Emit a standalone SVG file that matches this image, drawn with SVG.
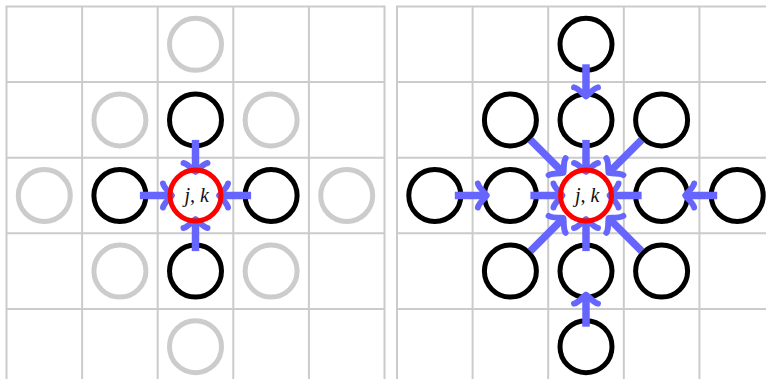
<svg xmlns="http://www.w3.org/2000/svg" width="766" height="379" viewBox="0 0 766 379">
<style>
.grid line{stroke:#cbcbcb;stroke-width:2}
.bg{fill:#ffffff}
circle{fill:none;stroke-width:5}
.k{stroke:#000000}
.g{stroke:#cccccc}
.r{stroke:#ff0000}
.arr line{stroke:#6666ff;stroke-width:7.5;stroke-linecap:butt}
.head{fill:none;stroke:#6666ff;stroke-width:6;stroke-linecap:round;stroke-linejoin:round}
.lbl{font-family:"Liberation Serif","DejaVu Serif",serif;font-style:italic;font-size:20px;fill:#111111;text-anchor:middle}
</style>
<defs>
<path id="head" class="head" d="M-9,12 C-8.25,7.5 0,0.75 0,0 C0,-0.75 -8.25,-7.5 -9,-12"/>
</defs>
<rect class="bg" x="0" y="0" width="766" height="379"/>
<g id="grid-left" class="grid">
<line x1="6.5" y1="6.5" x2="6.5" y2="380"/>
<line x1="82.1" y1="6.5" x2="82.1" y2="380"/>
<line x1="157.7" y1="6.5" x2="157.7" y2="380"/>
<line x1="233.3" y1="6.5" x2="233.3" y2="380"/>
<line x1="308.9" y1="6.5" x2="308.9" y2="380"/>
<line x1="384.5" y1="6.5" x2="384.5" y2="380"/>
<line x1="5.5" y1="6.5" x2="385.5" y2="6.5"/>
<line x1="6.5" y1="82.1" x2="384.5" y2="82.1"/>
<line x1="6.5" y1="157.7" x2="384.5" y2="157.7"/>
<line x1="6.5" y1="233.3" x2="384.5" y2="233.3"/>
<line x1="6.5" y1="308.9" x2="384.5" y2="308.9"/>
</g>
<g id="grid-right" class="grid">
<line x1="397" y1="6.5" x2="397" y2="380"/>
<line x1="472.6" y1="6.5" x2="472.6" y2="380"/>
<line x1="548.2" y1="6.5" x2="548.2" y2="380"/>
<line x1="623.8" y1="6.5" x2="623.8" y2="380"/>
<line x1="699.4" y1="6.5" x2="699.4" y2="380"/>
<line x1="396" y1="6.5" x2="770" y2="6.5"/>
<line x1="397" y1="82.1" x2="770" y2="82.1"/>
<line x1="397" y1="157.7" x2="770" y2="157.7"/>
<line x1="397" y1="233.3" x2="770" y2="233.3"/>
<line x1="397" y1="308.9" x2="770" y2="308.9"/>
</g>
<g id="left-n-0-2"><circle class="g" cx="195.5" cy="44.3" r="26"/></g>
<g id="left-n-1-1"><circle class="g" cx="119.9" cy="119.9" r="26"/></g>
<g id="left-n-1-2"><circle class="k" cx="195.5" cy="119.9" r="26"/></g>
<g id="left-n-1-3"><circle class="g" cx="271.1" cy="119.9" r="26"/></g>
<g id="left-n-2-0"><circle class="g" cx="44.3" cy="195.5" r="26"/></g>
<g id="left-n-2-1"><circle class="k" cx="119.9" cy="195.5" r="26"/></g>
<g id="left-n-2-3"><circle class="k" cx="271.1" cy="195.5" r="26"/></g>
<g id="left-n-2-4"><circle class="g" cx="346.7" cy="195.5" r="26"/></g>
<g id="left-n-3-1"><circle class="g" cx="119.9" cy="271.1" r="26"/></g>
<g id="left-n-3-2"><circle class="k" cx="195.5" cy="271.1" r="26"/></g>
<g id="left-n-3-3"><circle class="g" cx="271.1" cy="271.1" r="26"/></g>
<g id="left-n-4-2"><circle class="g" cx="195.5" cy="346.7" r="26"/></g>
<g id="right-n-0-2"><circle class="k" cx="586" cy="44.3" r="26"/></g>
<g id="right-n-1-1"><circle class="k" cx="510.4" cy="119.9" r="26"/></g>
<g id="right-n-1-2"><circle class="k" cx="586" cy="119.9" r="26"/></g>
<g id="right-n-1-3"><circle class="k" cx="661.6" cy="119.9" r="26"/></g>
<g id="right-n-2-0"><circle class="k" cx="434.8" cy="195.5" r="26"/></g>
<g id="right-n-2-1"><circle class="k" cx="510.4" cy="195.5" r="26"/></g>
<g id="right-n-2-3"><circle class="k" cx="661.6" cy="195.5" r="26"/></g>
<g id="right-n-2-4"><circle class="k" cx="737.2" cy="195.5" r="26"/></g>
<g id="right-n-3-1"><circle class="k" cx="510.4" cy="271.1" r="26"/></g>
<g id="right-n-3-2"><circle class="k" cx="586" cy="271.1" r="26"/></g>
<g id="right-n-3-3"><circle class="k" cx="661.6" cy="271.1" r="26"/></g>
<g id="right-n-4-2"><circle class="k" cx="586" cy="346.7" r="26"/></g>
<g id="connectors" class="arr">
<g transform="translate(195.5,139.9) rotate(90)"><line x1="0" y1="0" x2="31.6" y2="0"/><use href="#head" x="32.1"/></g>
<g transform="translate(139.9,195.5) rotate(0)"><line x1="0" y1="0" x2="31.6" y2="0"/><use href="#head" x="32.1"/></g>
<g transform="translate(251.1,195.5) rotate(180)"><line x1="0" y1="0" x2="31.6" y2="0"/><use href="#head" x="32.1"/></g>
<g transform="translate(195.5,251.1) rotate(-90)"><line x1="0" y1="0" x2="31.6" y2="0"/><use href="#head" x="32.1"/></g>
<g transform="translate(586,139.9) rotate(90)"><line x1="0" y1="0" x2="31.6" y2="0"/><use href="#head" x="32.1"/></g>
<g transform="translate(530.4,195.5) rotate(0)"><line x1="0" y1="0" x2="31.6" y2="0"/><use href="#head" x="32.1"/></g>
<g transform="translate(641.6,195.5) rotate(180)"><line x1="0" y1="0" x2="31.6" y2="0"/><use href="#head" x="32.1"/></g>
<g transform="translate(586,251.1) rotate(-90)"><line x1="0" y1="0" x2="31.6" y2="0"/><use href="#head" x="32.1"/></g>
<g transform="translate(586,64.3) rotate(90)"><line x1="0" y1="0" x2="31.6" y2="0"/><use href="#head" x="32.1"/></g>
<g transform="translate(454.8,195.5) rotate(0)"><line x1="0" y1="0" x2="31.6" y2="0"/><use href="#head" x="32.1"/></g>
<g transform="translate(717.2,195.5) rotate(180)"><line x1="0" y1="0" x2="31.6" y2="0"/><use href="#head" x="32.1"/></g>
<g transform="translate(586,326.7) rotate(-90)"><line x1="0" y1="0" x2="31.6" y2="0"/><use href="#head" x="32.1"/></g>
<g transform="translate(530.4,139.9) rotate(45)"><line x1="0" y1="0" x2="46.3" y2="0"/><use href="#head" x="46.8"/></g>
<g transform="translate(641.6,139.9) rotate(135)"><line x1="0" y1="0" x2="46.3" y2="0"/><use href="#head" x="46.8"/></g>
<g transform="translate(530.4,251.1) rotate(-45)"><line x1="0" y1="0" x2="46.3" y2="0"/><use href="#head" x="46.8"/></g>
<g transform="translate(641.6,251.1) rotate(-135)"><line x1="0" y1="0" x2="46.3" y2="0"/><use href="#head" x="46.8"/></g>
</g>
<g id="left-center"><circle class="r" cx="195.5" cy="195.5" r="25.5"/><text class="lbl" x="196.7" y="202">j, k</text></g>
<g id="right-center"><circle class="r" cx="586" cy="195.5" r="25.5"/><text class="lbl" x="587.2" y="202">j, k</text></g>
</svg>
